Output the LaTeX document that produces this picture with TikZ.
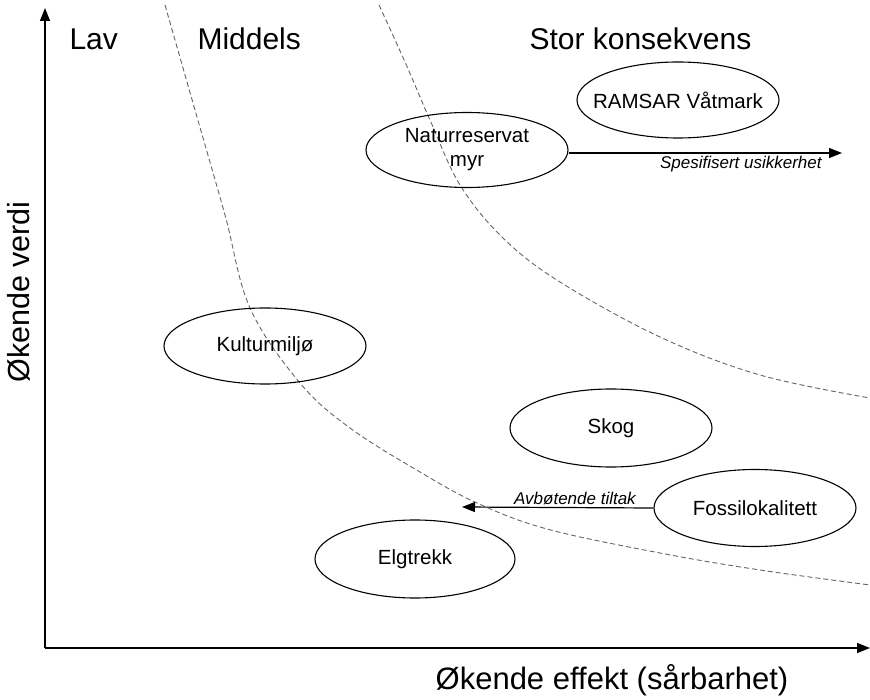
\documentclass[tikz,border=0pt]{standalone}
\usepackage{fontspec}
\setmainfont{Liberation Sans}
\usetikzlibrary{shapes.geometric,arrows.meta}
\tikzset{
  oval/.style={draw, ellipse, line width=1.1pt, minimum width=#1, minimum height=76pt, inner sep=0pt},
  oval/.default=202pt,
  ovaltext/.style={align=center, font=\fontsize{20.5}{24}\selectfont, inner sep=0pt},
  axis/.style={line width=1.4pt, -{Triangle[length=13pt,width=10pt]}},
  flow/.style={line width=1.2pt, -{Triangle[length=13pt,width=10pt]}},
  border/.style={gray!80!black, line width=0.9pt, dash pattern=on 5pt off 3pt},
  heading/.style={font=\fontsize{30}{36}\selectfont, anchor=base west},
  note/.style={font=\itshape\fontsize{17}{20}\selectfont}
}
\begin{document}
\begin{tikzpicture}[x=1pt,y=-1pt]
\useasboundingbox[fill=white] (0,0) rectangle (870,700);
% axes
\coordinate (o) at (45,648);
\coordinate (ytop) at (45,8);
\coordinate (xend) at (870,648);
\draw[axis] (o) -- (ytop);
\draw[axis] (o) -- (xend);
\node[font=\fontsize{30.5}{36}\selectfont, rotate=90] (ylab) at (19,292) {Økende verdi};
\node[font=\fontsize{31}{36}\selectfont] (xlab) at (612,680) {Økende effekt (sårbarhet)};
% headings
\node[heading] (lav) at (66,50) {Lav};
\node[heading] (mid) at (194,50) {Middels};
\node[heading] (stor) at (526,50) {Stor konsekvens};
% borders
\draw[border] plot[smooth, tension=0.6] coordinates {(165,5) (195,110) (225,215) (250,308) (300,383) (350,428) (420,472) (477,503) (547,529) (660,553) (760,570) (870,585)};
\draw[border] plot[smooth, tension=0.6] coordinates {(379,5) (405,62) (430,120) (460,185) (503,238) (560,282) (660,337) (760,375) (870,398)};
% ovals
\node[oval] (ramsar) at (678,100) {};
\node[ovaltext] (ramsart) at (ramsar.center) {RAMSAR Våtmark};
\node[oval, minimum height=75pt] (natur) at (467,150) {};
\node[ovaltext] (naturt) at (natur.center) {Naturreservat\\myr};
\node[oval] (kultur) at (265,346) {};
\node[ovaltext] (kulturt) at (kultur.center) {Kulturmiljø};
\node[oval, minimum height=78pt] (skog) at (611,428) {};
\node[ovaltext] (skogt) at (skog.center) {Skog};
\node[oval, minimum height=77pt] (fossil) at (755,508) {};
\node[ovaltext] (fossilt) at (fossil.center) {Fossilokalitett};
\node[oval, minimum width=200pt, minimum height=78pt] (elg) at (415,559) {};
\node[ovaltext] (elgt) at (elg.center) {Elgtrekk};
% arrows
\coordinate (usik) at (842,153);
\coordinate (avb) at (462,507);
\draw[flow] (natur.east |- 0,153) -- node[note, pos=0.63, below=-1pt] {Spesifisert usikkerhet} (usik);
\draw[flow] (fossil.west) -- node[note, pos=0.41, above=-1pt] {Avbøtende tiltak} (avb);
\end{tikzpicture}
\end{document}
